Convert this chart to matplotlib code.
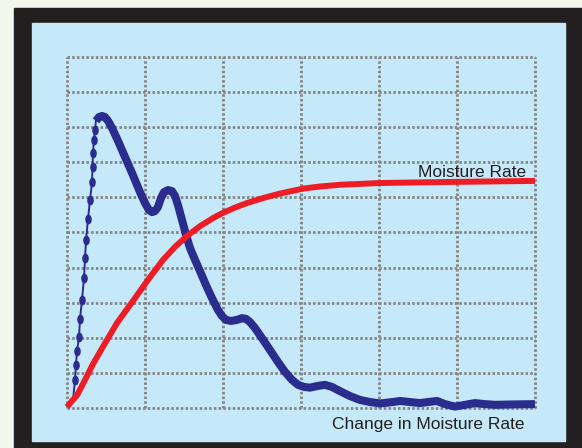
import matplotlib
matplotlib.use("Agg")
import matplotlib.pyplot as plt
from matplotlib.patches import Rectangle
from matplotlib.markers import MarkerStyle
from matplotlib.transforms import Affine2D

# colours
cream = "#f3f6ea"
frame = "#231f20"
panel = "#c6e9f9"
navy = "#2b2d8e"
red = "#ee1d25"
gridc = "#858585"

# grid positions (6 columns, 10 rows)
grid_x = [0, 1, 2, 3, 4, 5, 6]
grid_y = [0, 1, 2, 3, 4, 5, 6, 7, 8, 9, 10]

# Moisture Rate (red)
moist_x = [0.0, 0.064, 0.128, 0.192, 0.256, 0.333, 0.423, 0.526, 0.641, 0.744,
           0.846, 1.038, 1.231, 1.385, 1.538, 1.705, 1.872, 2.0, 2.154, 2.308,
           2.513, 2.731, 3.026, 3.244, 3.5, 4.013, 4.91, 6.0]
moist_y = [0.03, 0.20, 0.36, 0.63, 0.91, 1.25, 1.60, 1.99, 2.42, 2.74,
           3.05, 3.65, 4.22, 4.59, 4.90, 5.18, 5.41, 5.56, 5.71, 5.84,
           5.98, 6.11, 6.25, 6.31, 6.36, 6.41, 6.44, 6.47]

# Change in Moisture Rate, thin dotted rise
rise_x = [0.077, 0.103, 0.115, 0.128, 0.154, 0.167, 0.192, 0.218, 0.231, 0.244,
          0.269, 0.295, 0.321, 0.327, 0.333, 0.346, 0.359, 0.372]
rise_y = [0.23, 0.80, 1.23, 1.62, 2.02, 2.54, 3.08, 3.70, 4.27, 4.79,
          5.38, 5.93, 6.44, 6.87, 7.26, 7.64, 7.92, 8.21]

# Change in Moisture Rate, thick part
change_x = [0.372, 0.410, 0.449, 0.487, 0.526, 0.577, 0.654, 0.744, 0.833, 0.936,
            1.000, 1.051, 1.090, 1.128, 1.167, 1.205, 1.244, 1.295, 1.346, 1.385,
            1.423, 1.474, 1.526, 1.577, 1.641, 1.705, 1.782, 1.859, 1.936, 1.987,
            2.038, 2.103, 2.179, 2.244, 2.295, 2.346, 2.410, 2.500, 2.603, 2.705,
            2.795, 2.885, 2.962, 3.038, 3.115, 3.218, 3.308, 3.397, 3.500, 3.628,
            3.756, 3.885, 4.013, 4.141, 4.269, 4.397, 4.526, 4.628, 4.744, 4.846,
            4.974, 5.103, 5.231, 5.359, 5.487, 5.679, 6.0]
change_y = [8.18, 8.29, 8.32, 8.29, 8.18, 7.98, 7.61, 7.15, 6.70, 6.15,
            5.84, 5.64, 5.58, 5.61, 5.73, 5.98, 6.15, 6.21, 6.18, 6.04,
            5.78, 5.36, 4.93, 4.56, 4.22, 3.90, 3.50, 3.13, 2.79, 2.62,
            2.51, 2.48, 2.51, 2.56, 2.54, 2.45, 2.28, 1.99, 1.65, 1.31,
            1.03, 0.80, 0.66, 0.60, 0.58, 0.63, 0.66, 0.60, 0.48, 0.34,
            0.23, 0.17, 0.13, 0.16, 0.20, 0.17, 0.14, 0.17, 0.20, 0.11,
            0.04, 0.09, 0.14, 0.11, 0.09, 0.10, 0.11]

W, H = 582, 448
fig = plt.figure(figsize=(W / 100, H / 100), dpi=100, facecolor=cream)

# black frame and light blue panel (pixel boxes)
fig.patches.append(Rectangle((14 / W, 0), 1 - 14 / W, (H - 8) / H,
                             transform=fig.transFigure, color=frame, zorder=-2))
fig.patches.append(Rectangle((32 / W, (H - 441) / H), (565 - 32) / W, (441 - 23) / H,
                             transform=fig.transFigure, color=panel, zorder=-1))

ax = fig.add_axes([67 / W, (H - 408) / H, (535 - 67) / W, (408 - 57) / H])
ax.set_zorder(2)
ax.set_facecolor("none")
ax.set_xlim(0, 6)
ax.set_ylim(0, 10)
for s in ax.spines.values():
    s.set_visible(False)
ax.set_xticks(grid_x)
ax.set_yticks(grid_y)
ax.tick_params(length=0, labelbottom=False, labelleft=False)
ax.grid(True, color=gridc, linewidth=2.0, linestyle=(0, (0.9, 0.8)))
for gl in ax.xaxis.get_gridlines() + ax.yaxis.get_gridlines():
    gl.set_clip_on(False)

ell = MarkerStyle("o", transform=Affine2D().scale(0.62, 1.0))
ax.plot(rise_x, rise_y, color=navy, linewidth=1.4, marker=ell, markersize=6.0,
        markevery=list(range(1, len(rise_x) - 1)), zorder=3, clip_on=False)
ax.plot(change_x, change_y, color=navy, linewidth=5.8, solid_joinstyle="round",
        solid_capstyle="butt", zorder=3, clip_on=False)
ax.plot(moist_x, moist_y, color=red, linewidth=4.3, solid_joinstyle="round",
        solid_capstyle="butt", zorder=4, clip_on=False)

font = dict(family=["Liberation Sans", "DejaVu Sans"], fontsize=12.5, color=frame)
fig.text(526 / W, (H - 177) / H, "Moisture Rate", ha="right", va="baseline",
         zorder=5, **font)
fig.text(525 / W, (H - 429) / H, "Change in Moisture Rate", ha="right", va="baseline",
         zorder=5, **font)

fig.savefig("out.png", dpi=100, facecolor=cream)
